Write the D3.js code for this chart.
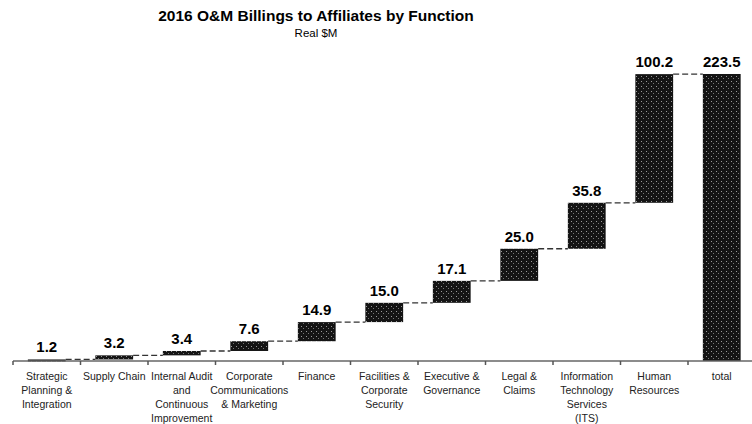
<!DOCTYPE html>
<meta charset="utf-8">
<script src="https://d3js.org/d3.v7.min.js"></script>
<style>
  body { margin: 0; background: #fff; }
  text { font-family: "Liberation Sans", Arial, sans-serif; }
</style>
<div id="my_dataviz"></div>
<script>

// categories (one entry per line of the tick label)
var categories = [
  ["Strategic", "Planning &", "Integration"],
  ["Supply Chain"],
  ["Internal Audit", "and", "Continuous", "Improvement"],
  ["Corporate", "Communications", "& Marketing"],
  ["Finance"],
  ["Facilities &", "Corporate", "Security"],
  ["Executive &", "Governance"],
  ["Legal &", "Claims"],
  ["Information", "Technology", "Services", "(ITS)"],
  ["Human", "Resources"],
  ["total"]
];

// billings, real $M
var values = [1.2, 3.2, 3.4, 7.6, 14.9, 15.0, 17.1, 25.0, 35.8, 100.2];
var totalValue = 223.5;

var width = 752, height = 424;

var svg = d3.select("#my_dataviz")
  .append("svg")
    .attr("width", width)
    .attr("height", height);

// dark speckled fill like the scanned bars
var defs = svg.append("defs");
var pat = defs.append("pattern")
    .attr("id", "speckle")
    .attr("width", 5)
    .attr("height", 5)
    .attr("patternUnits", "userSpaceOnUse");
pat.append("rect").attr("width", 5).attr("height", 5).attr("fill", "#141414");
pat.append("rect").attr("x", 1).attr("y", 1).attr("width", 1).attr("height", 1).attr("fill", "#9a9a9a");
pat.append("rect").attr("x", 3).attr("y", 3).attr("width", 1).attr("height", 1).attr("fill", "#777");

// build waterfall rows
var names = categories.map(function(d){ return d.join(" ") });
var rows = [];
var running = 0;
values.forEach(function(v, i){
  rows.push({name: names[i], start: running, end: running + v, value: v});
  running += v;
});
rows.push({name: names[names.length - 1], start: 0, end: totalValue, value: totalValue, total: true});

var x = d3.scaleBand()
  .domain(names)
  .range([13, 755.5])
  .paddingInner(0.44)
  .paddingOuter(0.22);

var y = d3.scaleLinear()
  .domain([0, 223.5])
  .range([361, 74]);

// title
svg.append("text")
  .attr("x", 316)
  .attr("y", 21)
  .attr("text-anchor", "middle")
  .style("font-size", "15.5px")
  .style("font-weight", "bold")
  .text("2016 O&M Billings to Affiliates by Function");

svg.append("text")
  .attr("x", 316)
  .attr("y", 37)
  .attr("text-anchor", "middle")
  .style("font-size", "11.5px")
  .text("Real $M");

// dashed connectors between bars
var links = rows.slice(0, rows.length - 1).map(function(d, i){
  return {from: d, to: rows[i + 1], level: d.end};
});
svg.selectAll("mylinks")
  .data(links)
  .enter()
  .append("line")
    .attr("x1", function(d){ return x(d.from.name) + x.bandwidth() })
    .attr("x2", function(d){ return x(d.to.name) })
    .attr("y1", function(d){ return y(d.level) })
    .attr("y2", function(d){ return y(d.level) })
    .attr("stroke", "#333")
    .attr("stroke-width", 1.3)
    .attr("stroke-dasharray", "6,3");

// bars
svg.selectAll("mybars")
  .data(rows)
  .enter()
  .append("rect")
    .attr("x", function(d){ return x(d.name) })
    .attr("width", x.bandwidth())
    .attr("y", function(d){ return y(d.end) })
    .attr("height", function(d){ return Math.max(2, y(d.start) - y(d.end)) })
    .attr("fill", "url(#speckle)");

// value labels
svg.selectAll("mylabels")
  .data(rows)
  .enter()
  .append("text")
    .attr("x", function(d){ return x(d.name) + x.bandwidth() / 2 })
    .attr("y", function(d){ return y(d.end) - 7 })
    .attr("text-anchor", "middle")
    .style("font-size", "15px")
    .style("font-weight", "bold")
    .text(function(d){ return d.value.toFixed(1) });

// x axis
var axis = svg.append("g").attr("transform", "translate(0," + y(0) + ")");
axis.append("line")
  .attr("x1", 13).attr("x2", 752)
  .attr("stroke", "#666").attr("stroke-width", 1.5);
axis.selectAll("myticks")
  .data(d3.range(names.length))
  .enter()
  .append("line")
    .attr("x1", function(i){ return 13 + i * x.step() })
    .attr("x2", function(i){ return 13 + i * x.step() })
    .attr("y1", 0).attr("y2", 4)
    .attr("stroke", "#555").attr("stroke-width", 1.5);

var ticks = axis.selectAll("mytick")
  .data(categories)
  .enter()
  .append("text")
    .attr("text-anchor", "middle")
    .attr("transform", function(d, i){ return "translate(" + (x(names[i]) + x.bandwidth() / 2) + ",19)" })
    .style("font-size", "10.5px")
    .style("fill", "#222");
ticks.selectAll("tspan")
  .data(function(d){ return d })
  .enter()
  .append("tspan")
    .attr("x", 0)
    .attr("y", function(d, j){ return j * 14 })
    .text(function(d){ return d });

</script>
